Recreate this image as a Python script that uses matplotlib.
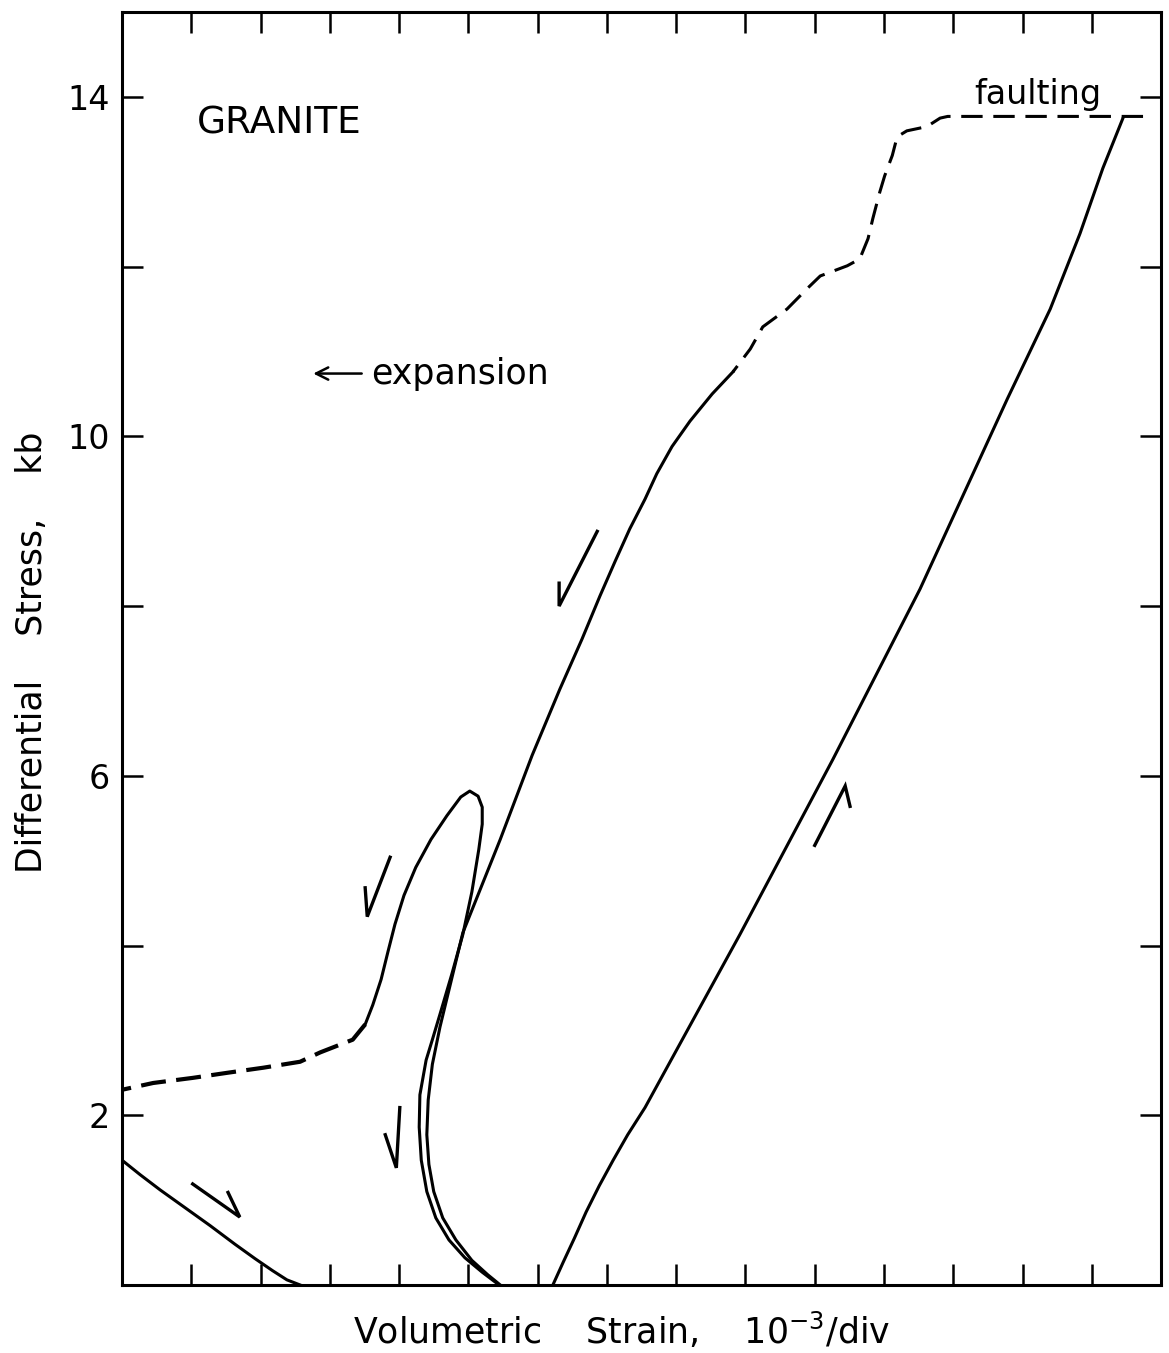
#!/usr/bin/env python3

import matplotlib as mpl
mpl.use('Agg')
import matplotlib.pyplot as plt

#======================================================================

# values (x: strain divisions, y: kb)

# loading to failure
load_x = [6.22, 6.37, 6.53, 6.70, 6.89, 7.09, 7.30, 7.55, 8.92, 10.26,
          11.52, 12.78, 13.40, 13.83, 14.16, 14.45]
load_y = [0.00, 0.27, 0.55, 0.86, 1.17, 1.47, 1.77, 2.09, 4.13, 6.19,
          8.20, 10.44, 11.50, 12.39, 13.16, 13.75]

# unloading after faulting, dashed part
unload_dash_x = [14.74, 11.92, 11.81, 11.62, 11.33, 11.19, 11.12, 11.01,
                 10.94, 10.84, 10.77, 10.65, 10.47, 10.08, 9.89, 9.60, 9.25,
                 9.07, 8.82]
unload_dash_y = [13.77, 13.77, 13.75, 13.65, 13.60, 13.53, 13.31, 13.07,
                 12.88, 12.57, 12.33, 12.09, 12.01, 11.89, 11.74, 11.50,
                 11.29, 11.03, 10.76]

# unloading, solid part
unload_x = [8.82, 8.52, 8.20, 7.94, 7.72, 7.55, 7.33, 7.12, 6.90, 6.64,
            6.32, 5.92, 5.46, 4.92, 4.59, 4.48, 4.42, 4.40, 4.43, 4.50,
            4.63, 4.82, 5.05, 5.28, 5.46]
unload_y = [10.76, 10.50, 10.18, 9.88, 9.56, 9.26, 8.91, 8.53, 8.12, 7.61,
            7.02, 6.24, 5.25, 4.15, 3.04, 2.60, 2.18, 1.77, 1.42, 1.10,
            0.79, 0.53, 0.29, 0.12, 0.00]

# reloading loop
loop_x = [5.41, 5.20, 4.95, 4.72, 4.53, 4.40, 4.32, 4.29, 4.30, 4.39, 4.48,
          4.59, 4.76, 4.92, 5.05, 5.15, 5.20, 5.20, 5.14, 5.02, 4.89, 4.69,
          4.46, 4.24, 4.07, 3.94, 3.84, 3.74, 3.62, 3.51]
loop_y = [0.02, 0.15, 0.32, 0.53, 0.79, 1.10, 1.47, 1.86, 2.24, 2.65, 2.89,
          3.19, 3.66, 4.13, 4.63, 5.13, 5.43, 5.63, 5.76, 5.82, 5.75, 5.53,
          5.25, 4.92, 4.59, 4.25, 3.93, 3.60, 3.30, 3.07]

# loop continued, dashed
loop_dash_x = [3.51, 3.33, 2.86, 2.57, 2.04, 1.52, 1.02, 0.45, 0.00]
loop_dash_y = [3.07, 2.89, 2.74, 2.63, 2.56, 2.50, 2.44, 2.38, 2.30]

# final unloading at the lower left
final_x = [0.00, 0.26, 0.55, 0.91, 1.27, 1.63, 1.92, 2.17, 2.38, 2.57]
final_y = [1.47, 1.30, 1.12, 0.91, 0.70, 0.48, 0.31, 0.17, 0.06, 0.00]

# half arrows: (tail, head, barb end)
arrows = [
    ((6.86, 8.88), (6.31, 8.00), (6.31, 8.27)),
    ((3.87, 5.04), (3.54, 4.34), (3.51, 4.68)),
    ((4.01, 2.09), (3.96, 1.38), (3.80, 1.77)),
    ((1.02, 1.19), (1.70, 0.80), (1.53, 1.09)),
    ((10.00, 5.18), (10.44, 5.88), (10.51, 5.64)),
]

yticks = [2, 4, 6, 8, 10, 12, 14]
yticklabels = ['2', '', '6', '', '10', '', '14']
xticks = list(range(1, 15))

#======================================================================

def main():
    fig = plt.figure(figsize=(11.69, 13.53), dpi=100)
    ax = fig.add_axes([0.1044, 0.0503, 0.8888, 0.9408])

    lw = 2.2
    dash = (0, (7, 3.5))

    ax.plot(load_x, load_y, c='k', lw=lw, solid_joinstyle='round')
    ax.plot(unload_dash_x, unload_dash_y, c='k', lw=lw, ls=dash)
    ax.plot(unload_x, unload_y, c='k', lw=lw, solid_joinstyle='round')
    ax.plot(loop_x, loop_y, c='k', lw=lw, solid_joinstyle='round')
    ax.plot(loop_dash_x, loop_dash_y, c='k', lw=3.0, ls=(0, (6, 2.5)))
    ax.plot(final_x, final_y, c='k', lw=lw, solid_joinstyle='round')

    for tail, head, barb in arrows:
        ax.plot([tail[0], head[0], barb[0]], [tail[1], head[1], barb[1]],
                c='k', lw=2.4, solid_joinstyle='miter')

    # labels in the plot
    ax.text(1.08, 13.69, 'GRANITE', fontsize=27, va='center', ha='left')
    ax.text(12.31, 13.92, 'faulting', fontsize=24, va='baseline', ha='left')
    ax.annotate('', xy=(2.72, 10.74), xytext=(3.50, 10.74),
                arrowprops=dict(arrowstyle='->', color='k', lw=1.8,
                                mutation_scale=22))
    ax.text(3.60, 10.74, 'expansion', fontsize=25, va='center', ha='left')

    ax.set_xlim(0, 15)
    ax.set_ylim(0, 15)

    ax.set_xticks(xticks)
    ax.set_xticklabels([])
    ax.set_yticks(yticks)
    ax.set_yticklabels(yticklabels)
    ax.tick_params(direction='in', length=15, width=1.8, top=True,
                   right=True, labelsize=24, pad=9)

    for sp in ax.spines.values():
        sp.set_linewidth(2.2)

    ax.set_xlabel('Volumetric    Strain,    10$^{-3}$/div', fontsize=25)
    ax.xaxis.label.set_va('center')
    ax.xaxis.set_label_coords(0.481, -0.036)

    ax.set_ylabel('Differential    Stress,    kb', fontsize=25)
    ax.yaxis.label.set_va('center')
    ax.yaxis.set_label_coords(-0.087, 0.497)

    fig.savefig('out.png', dpi=100)
    plt.close()

#======================================================================

if __name__ == '__main__':
    main()
